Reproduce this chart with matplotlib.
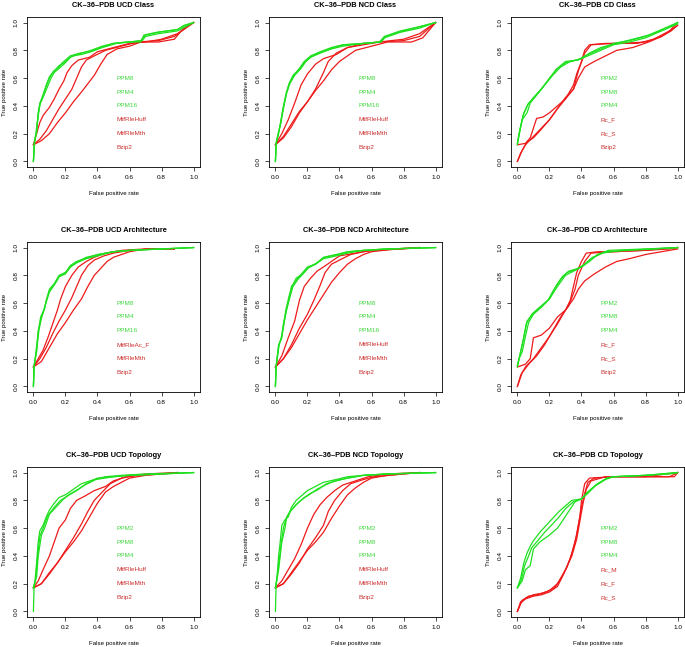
import matplotlib
matplotlib.use("Agg")
import matplotlib.pyplot as plt

plt.rcParams['font.family'] = ['Liberation Sans', 'DejaVu Sans']

# panel titles, row by row
titles = [
    "CK\u201336\u2013PDB UCD Class", "CK\u201336\u2013PDB NCD Class", "CK\u201336\u2013PDB CD Class",
    "CK\u201336\u2013PDB UCD Architecture", "CK\u201336\u2013PDB NCD Architecture", "CK\u201336\u2013PDB CD Architecture",
    "CK\u201336\u2013PDB UCD Topology", "CK\u201336\u2013PDB NCD Topology", "CK\u201336\u2013PDB CD Topology",
]

# method names shown inside each panel (first three green, last three red)
labels = [
    ["PPM8", "PPM4", "PPM16", "MtfRleHuff", "MtfRleMth", "Bzip2"],
    ["PPM8", "PPM4", "PPM16", "MtfRleHuff", "MtfRleMth", "Bzip2"],
    ["PPM2", "PPM8", "PPM4", "Rc_F", "Rc_S", "Bzip2"],
    ["PPM8", "PPM4", "PPM16", "MtfRleAc_F", "MtfRleMth", "Bzip2"],
    ["PPM8", "PPM4", "PPM16", "MtfRleHuff", "MtfRleMth", "Bzip2"],
    ["PPM2", "PPM8", "PPM4", "Rc_F", "Rc_S", "Bzip2"],
    ["PPM2", "PPM8", "PPM4", "MtfRleHuff", "MtfRleMth", "Bzip2"],
    ["PPM2", "PPM8", "PPM4", "MtfRleHuff", "MtfRleMth", "Bzip2"],
    ["PPM2", "PPM8", "PPM4", "Rc_M", "Rc_F", "Rc_S"],
]

# ROC curves: (false positive rate, true positive rate)
ucd_class = [
    [(0, 0), (0.006, 0.14), (0.02, 0.21), (0.03, 0.35), (0.04, 0.42), (0.06, 0.47), (0.08, 0.54), (0.1, 0.6),
     (0.125, 0.65), (0.16, 0.68), (0.18, 0.71), (0.23, 0.76), (0.29, 0.78), (0.35, 0.79), (0.42, 0.82),
     (0.5, 0.85), (0.58, 0.86), (0.67, 0.86), (0.69, 0.91), (0.77, 0.93), (0.9, 0.95), (0.94, 0.98), (1, 1)],
    [(0, 0), (0.008, 0.14), (0.02, 0.22), (0.03, 0.34), (0.045, 0.43), (0.06, 0.48), (0.08, 0.55), (0.1, 0.61),
     (0.13, 0.65), (0.16, 0.69), (0.19, 0.71), (0.23, 0.75), (0.3, 0.78), (0.36, 0.8), (0.43, 0.83),
     (0.5, 0.85), (0.6, 0.86), (0.67, 0.87), (0.7, 0.91), (0.78, 0.93), (0.9, 0.95), (0.95, 0.98), (1, 1)],
    [(0, 0), (0.005, 0.13), (0.015, 0.2), (0.03, 0.33), (0.04, 0.41), (0.06, 0.46), (0.085, 0.53), (0.11, 0.6),
     (0.13, 0.64), (0.17, 0.68), (0.19, 0.7), (0.24, 0.76), (0.3, 0.77), (0.36, 0.79), (0.43, 0.82),
     (0.52, 0.85), (0.6, 0.86), (0.68, 0.87), (0.7, 0.9), (0.78, 0.92), (0.9, 0.94), (0.95, 0.97), (1, 1)],
    [(0, 0.12), (0.02, 0.2), (0.04, 0.28), (0.06, 0.33), (0.1, 0.39), (0.13, 0.45), (0.16, 0.52), (0.19, 0.58),
     (0.21, 0.64), (0.24, 0.69), (0.28, 0.73), (0.35, 0.75), (0.4, 0.79), (0.5, 0.82), (0.6, 0.85), (0.7, 0.86),
     (0.8, 0.88), (0.9, 0.92), (1, 1)],
    [(0, 0.12), (0.04, 0.16), (0.08, 0.22), (0.12, 0.3), (0.16, 0.38), (0.2, 0.45), (0.24, 0.52), (0.27, 0.6),
     (0.3, 0.68), (0.33, 0.73), (0.38, 0.76), (0.45, 0.8), (0.55, 0.83), (0.65, 0.86), (0.78, 0.87),
     (0.88, 0.9), (0.95, 0.96), (1, 1)],
    [(0, 0.12), (0.05, 0.15), (0.1, 0.2), (0.15, 0.28), (0.2, 0.35), (0.25, 0.43), (0.3, 0.5), (0.34, 0.56),
     (0.38, 0.62), (0.42, 0.7), (0.46, 0.77), (0.52, 0.81), (0.6, 0.83), (0.67, 0.86), (0.78, 0.86),
     (0.88, 0.88), (0.93, 0.95), (1, 1)],
]

ncd_class = [
    [(0, 0), (0.005, 0.13), (0.02, 0.2), (0.03, 0.27), (0.05, 0.38), (0.07, 0.5), (0.09, 0.57), (0.12, 0.63),
     (0.15, 0.67), (0.18, 0.72), (0.22, 0.76), (0.28, 0.79), (0.35, 0.82), (0.42, 0.84), (0.55, 0.85),
     (0.65, 0.86), (0.68, 0.9), (0.78, 0.94), (0.9, 0.97), (1, 1)],
    [(0, 0), (0.006, 0.14), (0.02, 0.21), (0.035, 0.28), (0.05, 0.39), (0.07, 0.49), (0.09, 0.56), (0.12, 0.62),
     (0.16, 0.67), (0.19, 0.72), (0.23, 0.76), (0.29, 0.79), (0.36, 0.82), (0.43, 0.84), (0.56, 0.85),
     (0.66, 0.86), (0.69, 0.9), (0.8, 0.94), (0.9, 0.97), (1, 1)],
    [(0, 0), (0.004, 0.13), (0.015, 0.19), (0.03, 0.26), (0.045, 0.37), (0.065, 0.48), (0.085, 0.56),
     (0.11, 0.62), (0.15, 0.66), (0.18, 0.71), (0.22, 0.75), (0.28, 0.78), (0.35, 0.81), (0.42, 0.83),
     (0.55, 0.85), (0.65, 0.86), (0.68, 0.89), (0.78, 0.93), (0.9, 0.96), (1, 1)],
    [(0, 0.12), (0.04, 0.2), (0.08, 0.3), (0.12, 0.42), (0.16, 0.55), (0.2, 0.63), (0.25, 0.7), (0.3, 0.74),
     (0.38, 0.77), (0.45, 0.82), (0.55, 0.85), (0.65, 0.86), (0.8, 0.87), (0.9, 0.9), (1, 1)],
    [(0, 0.12), (0.05, 0.18), (0.1, 0.27), (0.15, 0.36), (0.2, 0.43), (0.25, 0.52), (0.3, 0.64), (0.33, 0.72),
     (0.38, 0.78), (0.45, 0.82), (0.55, 0.84), (0.65, 0.86), (0.8, 0.88), (0.9, 0.92), (1, 1)],
    [(0, 0.12), (0.05, 0.17), (0.1, 0.25), (0.15, 0.35), (0.2, 0.43), (0.25, 0.51), (0.3, 0.58), (0.35, 0.66),
     (0.4, 0.72), (0.45, 0.76), (0.5, 0.8), (0.6, 0.83), (0.7, 0.86), (0.85, 0.86), (0.92, 0.89), (1, 1)],
]

cd_class = [
    [(0, 0.13), (0.02, 0.25), (0.04, 0.35), (0.07, 0.42), (0.1, 0.45), (0.15, 0.52), (0.2, 0.6), (0.25, 0.67),
     (0.3, 0.72), (0.38, 0.73), (0.42, 0.76), (0.5, 0.8), (0.6, 0.85), (0.7, 0.87), (0.8, 0.9), (0.9, 0.95),
     (1, 1)],
    [(0, 0.13), (0.01, 0.2), (0.03, 0.3), (0.06, 0.35), (0.08, 0.42), (0.12, 0.48), (0.17, 0.55), (0.22, 0.62),
     (0.27, 0.68), (0.33, 0.72), (0.4, 0.74), (0.45, 0.78), (0.52, 0.82), (0.62, 0.85), (0.72, 0.88),
     (0.82, 0.91), (0.92, 0.95), (1, 0.99)],
    [(0, 0.12), (0.015, 0.22), (0.035, 0.33), (0.065, 0.41), (0.1, 0.46), (0.14, 0.51), (0.19, 0.58),
     (0.24, 0.66), (0.3, 0.71), (0.37, 0.73), (0.42, 0.75), (0.5, 0.79), (0.6, 0.84), (0.7, 0.86), (0.8, 0.89),
     (0.9, 0.94), (1, 1)],
    [(0, 0.0), (0.02, 0.06), (0.05, 0.12), (0.1, 0.18), (0.15, 0.24), (0.2, 0.3), (0.25, 0.38), (0.3, 0.45),
     (0.35, 0.55), (0.37, 0.63), (0.4, 0.72), (0.42, 0.8), (0.45, 0.84), (0.55, 0.85), (0.65, 0.85),
     (0.8, 0.86), (0.9, 0.9), (1, 0.98)],
    [(0, 0.0), (0.03, 0.08), (0.06, 0.14), (0.1, 0.17), (0.14, 0.22), (0.2, 0.3), (0.25, 0.38), (0.3, 0.46),
     (0.35, 0.52), (0.38, 0.65), (0.42, 0.78), (0.46, 0.84), (0.6, 0.85), (0.75, 0.85), (0.85, 0.88),
     (0.95, 0.94), (1, 1)],
    [(0, 0.12), (0.05, 0.13), (0.08, 0.17), (0.12, 0.31), (0.16, 0.32), (0.2, 0.35), (0.25, 0.4), (0.3, 0.45),
     (0.35, 0.52), (0.38, 0.6), (0.42, 0.68), (0.48, 0.72), (0.55, 0.76), (0.62, 0.8), (0.72, 0.82),
     (0.82, 0.86), (0.9, 0.9), (0.96, 0.94), (1, 0.98)],
]

ucd_arch = [
    [(0, 0), (0.004, 0.15), (0.02, 0.25), (0.03, 0.4), (0.05, 0.5), (0.07, 0.56), (0.08, 0.62), (0.1, 0.7),
     (0.13, 0.74), (0.16, 0.8), (0.2, 0.82), (0.23, 0.87), (0.27, 0.9), (0.32, 0.92), (0.4, 0.95),
     (0.5, 0.97), (0.6, 0.98), (0.8, 0.99), (1, 1)],
    [(0, 0), (0.005, 0.15), (0.02, 0.26), (0.035, 0.41), (0.05, 0.49), (0.07, 0.57), (0.085, 0.63),
     (0.1, 0.69), (0.14, 0.75), (0.16, 0.79), (0.21, 0.83), (0.24, 0.87), (0.28, 0.9), (0.33, 0.93),
     (0.41, 0.95), (0.5, 0.97), (0.62, 0.98), (0.8, 0.99), (1, 1)],
    [(0, 0), (0.004, 0.14), (0.015, 0.24), (0.03, 0.39), (0.045, 0.5), (0.065, 0.55), (0.08, 0.61),
     (0.1, 0.68), (0.13, 0.73), (0.16, 0.79), (0.2, 0.81), (0.23, 0.86), (0.27, 0.89), (0.33, 0.92),
     (0.4, 0.94), (0.5, 0.97), (0.6, 0.98), (0.8, 0.99), (1, 1)],
    [(0, 0.14), (0.03, 0.2), (0.06, 0.26), (0.09, 0.35), (0.12, 0.45), (0.15, 0.55), (0.17, 0.63), (0.2, 0.72),
     (0.24, 0.8), (0.28, 0.86), (0.33, 0.9), (0.38, 0.93), (0.45, 0.96), (0.55, 0.98), (0.7, 0.99),
     (0.88, 0.99)],
    [(0, 0.14), (0.04, 0.2), (0.08, 0.28), (0.12, 0.38), (0.16, 0.47), (0.2, 0.55), (0.24, 0.64), (0.27, 0.72),
     (0.3, 0.8), (0.34, 0.87), (0.38, 0.91), (0.44, 0.94), (0.5, 0.96), (0.6, 0.98), (0.75, 0.99),
     (0.88, 0.99)],
    [(0, 0.14), (0.05, 0.18), (0.1, 0.28), (0.15, 0.38), (0.2, 0.46), (0.25, 0.55), (0.3, 0.63), (0.34, 0.72),
     (0.38, 0.8), (0.42, 0.85), (0.46, 0.9), (0.5, 0.93), (0.55, 0.95), (0.6, 0.97), (0.7, 0.99),
     (0.88, 0.99)],
]

ncd_arch = [
    [(0, 0), (0.004, 0.14), (0.01, 0.2), (0.02, 0.3), (0.04, 0.35), (0.05, 0.45), (0.07, 0.55), (0.09, 0.65),
     (0.1, 0.72), (0.14, 0.78), (0.17, 0.82), (0.2, 0.86), (0.25, 0.88), (0.3, 0.93), (0.38, 0.95),
     (0.45, 0.97), (0.55, 0.98), (0.7, 0.99), (1, 1)],
    [(0, 0), (0.005, 0.15), (0.012, 0.21), (0.025, 0.31), (0.04, 0.36), (0.055, 0.46), (0.07, 0.56),
     (0.09, 0.64), (0.11, 0.72), (0.14, 0.77), (0.18, 0.82), (0.21, 0.86), (0.26, 0.89), (0.31, 0.93),
     (0.39, 0.95), (0.46, 0.97), (0.56, 0.98), (0.7, 0.99), (1, 1)],
    [(0, 0), (0.004, 0.14), (0.01, 0.19), (0.02, 0.29), (0.035, 0.34), (0.05, 0.44), (0.065, 0.55),
     (0.085, 0.65), (0.1, 0.71), (0.13, 0.78), (0.17, 0.81), (0.2, 0.85), (0.25, 0.88), (0.3, 0.92),
     (0.38, 0.94), (0.45, 0.96), (0.55, 0.98), (0.7, 0.99), (1, 1)],
    [(0, 0.14), (0.04, 0.22), (0.08, 0.35), (0.12, 0.47), (0.15, 0.62), (0.18, 0.72), (0.22, 0.78),
     (0.26, 0.83), (0.3, 0.86), (0.35, 0.9), (0.4, 0.94), (0.5, 0.96), (0.6, 0.98), (0.75, 0.99), (0.9, 1.0)],
    [(0, 0.14), (0.05, 0.2), (0.1, 0.3), (0.15, 0.42), (0.2, 0.52), (0.24, 0.62), (0.28, 0.73), (0.31, 0.82),
     (0.35, 0.88), (0.4, 0.91), (0.47, 0.95), (0.55, 0.97), (0.62, 0.98), (0.8, 0.99), (0.9, 1.0)],
    [(0, 0.14), (0.05, 0.2), (0.1, 0.28), (0.15, 0.38), (0.2, 0.48), (0.25, 0.57), (0.3, 0.66), (0.35, 0.75),
     (0.4, 0.82), (0.45, 0.88), (0.5, 0.92), (0.55, 0.95), (0.6, 0.97), (0.75, 0.99), (0.9, 1.0)],
]

cd_arch = [
    [(0, 0.15), (0.02, 0.25), (0.04, 0.35), (0.06, 0.47), (0.1, 0.53), (0.15, 0.58), (0.2, 0.63), (0.22, 0.68),
     (0.25, 0.74), (0.28, 0.79), (0.32, 0.83), (0.38, 0.85), (0.42, 0.88), (0.47, 0.93), (0.55, 0.97),
     (0.7, 0.98), (0.85, 0.99), (1, 1)],
    [(0, 0.15), (0.01, 0.2), (0.03, 0.25), (0.05, 0.36), (0.07, 0.46), (0.1, 0.52), (0.15, 0.57), (0.2, 0.63),
     (0.25, 0.72), (0.3, 0.8), (0.35, 0.83), (0.4, 0.86), (0.45, 0.9), (0.5, 0.95), (0.57, 0.98), (0.8, 0.99),
     (1, 1)],
    [(0, 0.14), (0.015, 0.22), (0.035, 0.33), (0.055, 0.45), (0.09, 0.52), (0.14, 0.57), (0.19, 0.62),
     (0.23, 0.7), (0.27, 0.77), (0.31, 0.82), (0.36, 0.84), (0.41, 0.87), (0.46, 0.92), (0.53, 0.96),
     (0.65, 0.98), (0.85, 0.99), (1, 1)],
    [(0, 0.0), (0.02, 0.08), (0.05, 0.14), (0.1, 0.2), (0.15, 0.28), (0.2, 0.36), (0.25, 0.45), (0.3, 0.55),
     (0.33, 0.62), (0.35, 0.72), (0.37, 0.82), (0.4, 0.9), (0.43, 0.96), (0.5, 0.97), (0.6, 0.97),
     (0.8, 0.98), (0.95, 0.99), (1, 1)],
    [(0, 0.0), (0.03, 0.1), (0.07, 0.16), (0.12, 0.22), (0.17, 0.3), (0.22, 0.4), (0.27, 0.5), (0.32, 0.58),
     (0.36, 0.7), (0.38, 0.8), (0.42, 0.9), (0.46, 0.96), (0.6, 0.97), (0.8, 0.98), (1, 1)],
    [(0, 0.14), (0.05, 0.16), (0.08, 0.2), (0.1, 0.35), (0.15, 0.37), (0.2, 0.42), (0.25, 0.5), (0.3, 0.55),
     (0.35, 0.63), (0.38, 0.7), (0.42, 0.76), (0.48, 0.81), (0.55, 0.86), (0.62, 0.9), (0.7, 0.92),
     (0.8, 0.95), (0.9, 0.97), (1, 0.99)],
]

ucd_topo = [
    [(0, 0), (0.004, 0.17), (0.01, 0.22), (0.02, 0.35), (0.03, 0.5), (0.04, 0.58), (0.06, 0.62), (0.08, 0.68),
     (0.1, 0.73), (0.13, 0.78), (0.16, 0.82), (0.2, 0.84), (0.25, 0.88), (0.3, 0.92), (0.38, 0.95),
     (0.45, 0.97), (0.55, 0.98), (0.7, 0.99), (1, 1)],
    [(0, 0.17), (0.02, 0.25), (0.03, 0.4), (0.05, 0.55), (0.07, 0.6), (0.1, 0.7), (0.14, 0.75), (0.18, 0.8),
     (0.22, 0.84), (0.28, 0.88), (0.33, 0.92), (0.4, 0.96), (0.5, 0.97), (0.6, 0.98), (0.8, 0.99), (1, 1)],
    [(0, 0.17), (0.015, 0.24), (0.025, 0.38), (0.04, 0.54), (0.06, 0.6), (0.09, 0.69), (0.13, 0.75),
     (0.17, 0.8), (0.21, 0.83), (0.27, 0.87), (0.32, 0.91), (0.39, 0.95), (0.5, 0.97), (0.6, 0.98),
     (0.8, 0.99), (1, 1)],
    [(0, 0.17), (0.03, 0.22), (0.06, 0.3), (0.1, 0.4), (0.13, 0.5), (0.16, 0.6), (0.2, 0.66), (0.23, 0.74),
     (0.27, 0.8), (0.32, 0.83), (0.38, 0.87), (0.45, 0.9), (0.5, 0.94), (0.58, 0.97), (0.7, 0.99), (0.9, 1)],
    [(0, 0.17), (0.05, 0.2), (0.1, 0.27), (0.15, 0.35), (0.2, 0.44), (0.25, 0.53), (0.3, 0.63), (0.34, 0.72),
     (0.38, 0.8), (0.43, 0.86), (0.48, 0.92), (0.55, 0.96), (0.65, 0.98), (0.8, 0.99), (0.9, 1)],
    [(0, 0.17), (0.05, 0.2), (0.1, 0.28), (0.15, 0.35), (0.2, 0.43), (0.25, 0.5), (0.3, 0.58), (0.35, 0.68),
     (0.4, 0.78), (0.45, 0.86), (0.5, 0.9), (0.55, 0.93), (0.6, 0.96), (0.7, 0.98), (0.9, 1)],
]

ncd_topo = [
    [(0, 0), (0.004, 0.17), (0.01, 0.25), (0.02, 0.4), (0.03, 0.5), (0.04, 0.62), (0.06, 0.66), (0.08, 0.68),
     (0.1, 0.75), (0.13, 0.8), (0.17, 0.84), (0.2, 0.87), (0.25, 0.9), (0.3, 0.93), (0.38, 0.95),
     (0.45, 0.97), (0.55, 0.98), (0.7, 0.99), (1, 1)],
    [(0, 0.17), (0.02, 0.3), (0.04, 0.5), (0.06, 0.6), (0.07, 0.68), (0.1, 0.73), (0.14, 0.78), (0.18, 0.82),
     (0.22, 0.85), (0.27, 0.88), (0.32, 0.92), (0.38, 0.94), (0.45, 0.96), (0.55, 0.98), (0.7, 0.99), (1, 1)],
    [(0, 0.17), (0.015, 0.28), (0.035, 0.48), (0.05, 0.6), (0.065, 0.66), (0.09, 0.72), (0.13, 0.77),
     (0.17, 0.81), (0.21, 0.84), (0.26, 0.88), (0.31, 0.91), (0.37, 0.94), (0.45, 0.96), (0.55, 0.98),
     (0.7, 0.99), (1, 1)],
    [(0, 0.17), (0.04, 0.22), (0.08, 0.3), (0.12, 0.38), (0.16, 0.48), (0.2, 0.6), (0.24, 0.7), (0.28, 0.77),
     (0.32, 0.82), (0.37, 0.87), (0.42, 0.91), (0.5, 0.94), (0.58, 0.97), (0.7, 0.99), (0.9, 1)],
    [(0, 0.17), (0.05, 0.2), (0.1, 0.27), (0.15, 0.35), (0.2, 0.45), (0.25, 0.53), (0.3, 0.62), (0.33, 0.72),
     (0.37, 0.8), (0.42, 0.87), (0.47, 0.92), (0.55, 0.95), (0.62, 0.97), (0.8, 0.99), (0.9, 1)],
    [(0, 0.17), (0.05, 0.2), (0.1, 0.28), (0.15, 0.36), (0.2, 0.44), (0.25, 0.5), (0.3, 0.57), (0.35, 0.67),
     (0.4, 0.76), (0.45, 0.84), (0.5, 0.89), (0.55, 0.93), (0.6, 0.96), (0.7, 0.98), (0.9, 1)],
]

cd_topo = [
    [(0, 0.17), (0.02, 0.24), (0.04, 0.35), (0.06, 0.42), (0.08, 0.47), (0.1, 0.51), (0.14, 0.57),
     (0.18, 0.62), (0.22, 0.67), (0.26, 0.72), (0.3, 0.76), (0.34, 0.8), (0.4, 0.81), (0.44, 0.86),
     (0.5, 0.92), (0.56, 0.96), (0.6, 0.97), (0.8, 0.98), (0.95, 0.99), (1, 1)],
    [(0, 0.17), (0.03, 0.22), (0.05, 0.3), (0.08, 0.33), (0.1, 0.45), (0.14, 0.5), (0.2, 0.55), (0.25, 0.6),
     (0.28, 0.65), (0.32, 0.72), (0.36, 0.79), (0.4, 0.81), (0.43, 0.85), (0.48, 0.9), (0.55, 0.95),
     (0.6, 0.97), (0.8, 0.98), (1, 1)],
    [(0, 0.17), (0.025, 0.23), (0.045, 0.33), (0.07, 0.4), (0.09, 0.46), (0.12, 0.5), (0.17, 0.57),
     (0.22, 0.63), (0.26, 0.68), (0.3, 0.74), (0.35, 0.79), (0.4, 0.81), (0.44, 0.85), (0.49, 0.91),
     (0.56, 0.96), (0.6, 0.97), (0.8, 0.98), (1, 1)],
    [(0, 0), (0.02, 0.06), (0.05, 0.09), (0.1, 0.11), (0.15, 0.12), (0.2, 0.14), (0.25, 0.18), (0.28, 0.25),
     (0.31, 0.32), (0.34, 0.42), (0.37, 0.55), (0.39, 0.68), (0.4, 0.8), (0.42, 0.92), (0.45, 0.96),
     (0.6, 0.97), (0.8, 0.97), (0.95, 0.97), (1, 1)],
    [(0, 0), (0.02, 0.07), (0.06, 0.1), (0.1, 0.12), (0.15, 0.13), (0.2, 0.15), (0.25, 0.2), (0.3, 0.3),
     (0.33, 0.38), (0.36, 0.5), (0.38, 0.62), (0.4, 0.75), (0.42, 0.85), (0.44, 0.93), (0.48, 0.96),
     (0.6, 0.97), (0.98, 0.97), (1, 1)],
    [(0, 0), (0.03, 0.08), (0.07, 0.11), (0.12, 0.12), (0.18, 0.14), (0.23, 0.17), (0.27, 0.23), (0.3, 0.3),
     (0.34, 0.4), (0.37, 0.52), (0.39, 0.65), (0.41, 0.78), (0.43, 0.88), (0.46, 0.94), (0.55, 0.97),
     (0.8, 0.97), (1, 1)],
]

panels = [ucd_class, ncd_class, cd_class, ucd_arch, ncd_arch, cd_arch, ucd_topo, ncd_topo, cd_topo]

GREEN = '#1fe01f'
RED = '#ee1a1a'
GREEN_TXT = '#3fd83f'
RED_TXT = '#cc3030'

fig = plt.figure(figsize=(6.85, 6.47), dpi=100)
W, H = 685.0, 647.0
col_left = [27, 269, 511]
row_top = [17, 242, 467]
ax_w, ax_h = 173, 150

for i, curves in enumerate(panels):
    r, c = divmod(i, 3)
    ax = fig.add_axes([col_left[c] / W, 1 - (row_top[r] + ax_h) / H, ax_w / W, ax_h / H])

    # red methods first, green on top
    for k in [3, 4, 5, 0, 1, 2]:
        xs = [p[0] for p in curves[k]]
        ys = [p[1] for p in curves[k]]
        ax.plot(xs, ys, color=GREEN if k < 3 else RED, lw=0.9)

    for k, name in enumerate(labels[i]):
        ax.text(0.52, 0.6 - 0.1 * k, name, fontsize=4.6, ha='left', va='center',
                color=GREEN_TXT if k < 3 else RED_TXT)

    ax.set_xlim(-0.04, 1.04)
    ax.set_ylim(-0.04, 1.04)
    ticks = [0, 0.2, 0.4, 0.6, 0.8, 1.0]
    ax.set_xticks(ticks)
    ax.set_yticks(ticks)
    ax.set_xticklabels(["%.1f" % t for t in ticks])
    ax.set_yticklabels(["%.1f" % t for t in ticks], rotation=90, va='center')
    ax.tick_params(length=3, width=0.5, pad=3, labelsize=4.6)
    for s in ax.spines.values():
        s.set_linewidth(0.6)

    ax.set_title(titles[i], fontsize=5.3, fontweight='bold', pad=7)
    ax.set_xlabel("False positive rate", fontsize=4.4, labelpad=8)
    ax.set_ylabel("True positive rate", fontsize=4.4, labelpad=5)

fig.savefig("out.png", dpi=100)
